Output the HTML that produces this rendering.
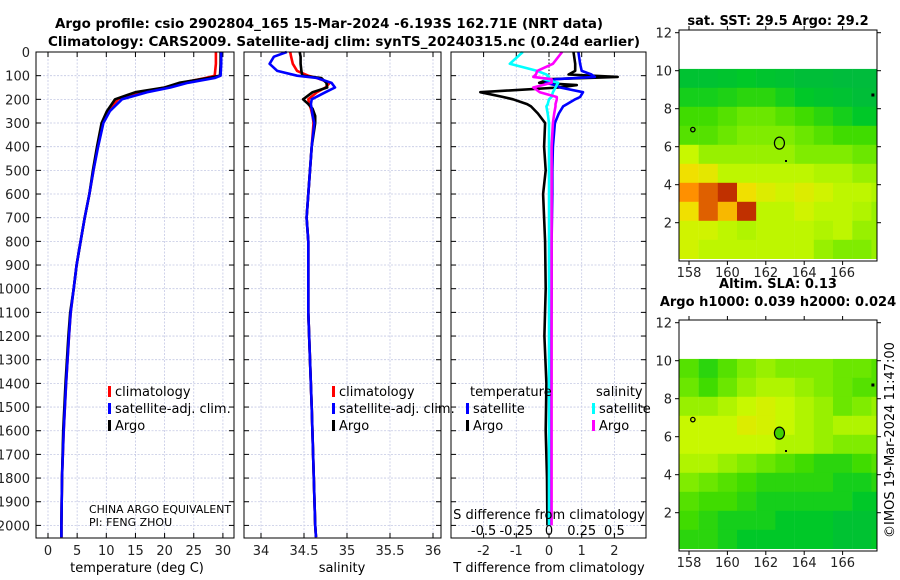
<!DOCTYPE html>
<html><head><meta charset="utf-8"><style>
html,body{margin:0;padding:0;background:#fff;}
svg{display:block;font-family:"DejaVu Sans","Liberation Sans",sans-serif;}
</style></head><body>
<svg id="fig" width="900" height="580" viewBox="0 0 900 580" xmlns="http://www.w3.org/2000/svg">
<text x="329" y="28" font-size="13" font-weight="bold" text-anchor="middle" textLength="548" lengthAdjust="spacingAndGlyphs">Argo profile: csio 2902804_165 15-Mar-2024 -6.193S 162.71E (NRT data)</text>
<text x="344" y="46" font-size="13" font-weight="bold" text-anchor="middle" textLength="592" lengthAdjust="spacingAndGlyphs">Climatology: CARS2009. Satellite-adj clim: synTS_20240315.nc (0.24d earlier)</text>
<g id="panels"></g>
<text x="0" y="0" font-size="13" text-anchor="middle" transform="translate(894,440) rotate(-90)">©IMOS 19-Mar-2024 11:47:00</text>
</svg>
<script>
// ---------- data ----------
const depthTicks = [0,100,200,300,400,500,600,700,800,900,1000,1100,1200,1300,1400,1500,1600,1700,1800,1900,2000];
const tempTicks = [0,5,10,15,20,25,30];
const salTicks = [34,34.5,35,35.5,36];
const salTickLabels = ["34","34.5","35","35.5","36"];
const tdiffTicks = [-2,-1,0,1,2];
const sdiffTicks = [-0.5,-0.25,0,0.25,0.5];
const sdiffTickLabels = ["-0.5","-0.25","0","0.25","0.5"];

const tDepths = [0,50,100,110,130,150,170,200,250,300,400,500,600,700,800,900,1000,1100,1200,1400,1600,1800,2000,2050];
const tempClim = [28.8,28.8,28.6,27,23,20,16,12,10.3,9.4,8.5,7.8,7.1,6.3,5.6,4.9,4.4,3.9,3.6,3.1,2.7,2.4,2.3,2.3];
const tempSat  = [29.7,29.7,29.6,28.6,24,21,17,12.7,10.6,9.5,8.6,7.8,7.1,6.3,5.6,4.9,4.4,3.9,3.6,3.1,2.7,2.4,2.3,2.3];
const tempArgo = [29.6,29.6,29.5,27.5,22.5,20,15,11.5,10.1,9.2,8.4,7.7,7.1,6.3,5.6,4.9,4.4,3.8,3.5,3.0,2.6,2.4,2.3,2.3];

const sDepths = [0,20,50,80,100,110,130,150,170,200,220,240,270,300,400,500,600,700,800,1100,1500,2000,2050];
const salClim = [34.34,34.35,34.37,34.42,34.55,34.65,34.8,34.75,34.65,34.55,34.56,34.58,34.6,34.61,34.59,34.57,34.55,34.53,34.55,34.55,34.59,34.63,34.64];
const salSat  = [34.3,34.15,34.1,34.19,34.42,34.65,34.82,34.86,34.75,34.59,34.58,34.59,34.6,34.62,34.59,34.57,34.55,34.53,34.55,34.55,34.59,34.63,34.64];
const salArgo = [34.45,34.46,34.46,34.47,34.48,34.7,34.76,34.77,34.6,34.49,34.55,34.6,34.63,34.63,34.59,34.57,34.55,34.53,34.55,34.55,34.59,34.63,34.64];

const dDepths = [0,50,80,95,105,115,130,140,150,170,190,200,220,230,260,300,400,500,600,800,1000,1200,1400,1600,1800,2000];
const tdiffSat  = [0.9,0.95,1.0,1.3,1.4,0.2,-0.1,0.2,0.34,1.04,0.95,0.8,0.55,0.43,0.3,0.18,0.12,0.1,0.1,0.08,0.08,0.07,0.07,0.06,0.06,0.05];
const tdiffArgo = [0.75,0.8,0.8,0.6,2.1,0.0,-0.3,0.85,0.3,-2.1,-1.4,-1.1,-0.67,-0.55,-0.34,-0.12,-0.15,-0.1,-0.18,-0.12,-0.1,-0.14,-0.08,-0.1,-0.06,-0.05];
const sdiffSat  = [-0.2,-0.3,-0.09,-0.02,0.0,-0.04,0.07,0.06,0.05,0.03,0.02,0.0,-0.01,-0.02,-0.01,0.0,0.0,0.0,0.0,0.0,0.0,0.0,0.0,0.0,0.0,0.0];
const sdiffArgo = [0.1,0.03,-0.09,-0.1,-0.12,0.02,0.02,-0.05,-0.12,-0.07,0.06,0.06,0.05,0.05,0.04,0.03,0.02,0.02,0.02,0.02,0.02,0.02,0.02,0.02,0.02,0.02];

const mapLonTicks = [158,160,162,164,166];
const mapLatTicks = [2,4,6,8,10,12];
const sstGrid = [
 [0.15,0.15,0.17,0.20,0.17,0.15,0.12,0.12,0.10,0.10,0.10],
 [0.25,0.25,0.27,0.30,0.30,0.25,0.20,0.17,0.15,0.12,0.12],
 [0.35,0.35,0.40,0.45,0.45,0.40,0.35,0.30,0.25,0.20,0.20],
 [0.40,0.40,0.45,0.50,0.50,0.50,0.45,0.40,0.35,0.35,0.35],
 [0.65,0.55,0.55,0.55,0.55,0.55,0.50,0.50,0.50,0.45,0.45],
 [0.75,0.72,0.63,0.63,0.63,0.63,0.63,0.60,0.60,0.55,0.55],
 [0.85,0.90,0.95,0.75,0.70,0.67,0.70,0.67,0.63,0.63,0.60],
 [0.75,0.90,0.80,0.95,0.63,0.63,0.67,0.63,0.63,0.60,0.55],
 [0.67,0.67,0.63,0.60,0.63,0.63,0.63,0.60,0.63,0.55,0.55],
 [0.67,0.63,0.63,0.63,0.63,0.63,0.63,0.55,0.50,0.50,0.55]];
const slaGrid = [
 [0.40,0.30,0.40,0.50,0.55,0.50,0.50,0.50,0.45,0.45,0.40],
 [0.45,0.35,0.45,0.55,0.60,0.60,0.55,0.50,0.45,0.40,0.40],
 [0.55,0.55,0.60,0.65,0.68,0.65,0.60,0.55,0.45,0.50,0.55],
 [0.65,0.65,0.65,0.70,0.68,0.65,0.60,0.55,0.60,0.60,0.60],
 [0.65,0.65,0.65,0.65,0.65,0.60,0.60,0.55,0.50,0.50,0.50],
 [0.60,0.60,0.55,0.50,0.45,0.40,0.35,0.30,0.30,0.35,0.40],
 [0.50,0.45,0.40,0.35,0.30,0.30,0.30,0.30,0.25,0.25,0.30],
 [0.40,0.35,0.35,0.30,0.25,0.25,0.25,0.25,0.25,0.20,0.20],
 [0.35,0.30,0.25,0.25,0.25,0.20,0.20,0.20,0.15,0.15,0.15],
 [0.30,0.30,0.25,0.20,0.20,0.20,0.20,0.20,0.15,0.15,0.20]];
const floatLon = 162.71, floatLat = 6.19;

// ---------- drawing ----------
const NS="http://www.w3.org/2000/svg";
const root=document.getElementById('panels');
function el(tag,attrs,parent){const e=document.createElementNS(NS,tag);for(const k in attrs)e.setAttribute(k,attrs[k]);(parent||root).appendChild(e);return e;}
function txt(s,x,y,attrs,parent){const t=el('text',Object.assign({x:x,y:y,'font-size':13},attrs||{}),parent);t.textContent=s;return t;}

const Y0=52, YPX=0.2367, YB=538;
const yS=d=>Y0+d*YPX;

function panel(name,x0,x1,xs,xticks,xlabels,showY){
  const g=el('g',{});
  
  
  depthTicks.forEach(d=>{
    const l=el('line',{x1:x0,x2:x1,y1:yS(d),y2:yS(d),stroke:'#c4c8e4','stroke-width':0.8,'stroke-dasharray':'2,1.5'},g);
    
    
    el('line',{x1:x0,x2:x0+5,y1:yS(d),y2:yS(d),stroke:'#000'},g);
    el('line',{x1:x1-5,x2:x1,y1:yS(d),y2:yS(d),stroke:'#000'},g);
    if(showY){const t=txt(String(d),x0-6,yS(d)+5,{'text-anchor':'end',fill:'#222'},g);
      
      }
  });
  xticks.forEach((v,i)=>{
    const x=xs(v);
    const l=el('line',{x1:x,x2:x,y1:Y0,y2:YB,stroke:'#c4c8e4','stroke-width':0.8,'stroke-dasharray':'2,1.5'},g);
    
    
    el('line',{x1:x,x2:x,y1:Y0,y2:Y0+5,stroke:'#000'},g);
    el('line',{x1:x,x2:x,y1:YB-5,y2:YB,stroke:'#000'},g);
    const t=txt(xlabels[i],x,555,{'text-anchor':'middle',fill:'#222'},g);
    
    
  });
  return g;
}
function frame(g,x0,x1){el('rect',{x:x0,y:Y0,width:x1-x0,height:YB-Y0,fill:'none',stroke:'#000','stroke-width':1},g);}
function line(g,name,xs,depths,vals,color,w){
  const p=el('polyline',{points:depths.map((d,i)=>xs(vals[i]).toFixed(1)+','+yS(d).toFixed(1)).join(' '),fill:'none',stroke:color,'stroke-width':w||2.6,'stroke-linejoin':'round'},g);
  
  
}
function legend(g,x,y,color,label,name){
  el('rect',{x:x-2,y:y-10,width:3,height:11,fill:color},g);
  const t=txt(label,x+5,y,{},g);
  
  
}

// panel 1 temperature
const xT=v=>48+v*5.83;
const g1=panel('temperature-panel',36,234,xT,tempTicks,tempTicks.map(String),true);
line(g1,'temp-climatology-line',xT,tDepths,tempClim,'#f00');
line(g1,'temp-argo-line',xT,tDepths,tempArgo,'#000');
line(g1,'temp-satellite-line',xT,tDepths,tempSat,'#00f');
frame(g1,36,234);
legend(g1,110,396,'#f00','climatology','legend-climatology');
legend(g1,110,413,'#00f','satellite-adj. clim.','legend-satellite-adj');
legend(g1,110,430,'#000','Argo','legend-argo');
let t=txt('CHINA ARGO EQUIVALENT',89,513,{'font-size':11,textLength:142,lengthAdjust:'spacingAndGlyphs'},g1);


t=txt('PI: FENG ZHOU',89,526,{'font-size':11},g1);


t=txt('temperature (deg C)',137,572,{'text-anchor':'middle'},g1);



// panel 2 salinity
const xSal=v=>261+(v-34)*86;
const g2=panel('salinity-panel',244,441,xSal,salTicks,salTickLabels,false);
line(g2,'sal-climatology-line',xSal,sDepths,salClim,'#f00');
line(g2,'sal-argo-line',xSal,sDepths,salArgo,'#000');
line(g2,'sal-satellite-line',xSal,sDepths,salSat,'#00f');
frame(g2,244,441);
legend(g2,334,396,'#f00','climatology','legend-climatology-sal');
legend(g2,334,413,'#00f','satellite-adj. clim.','legend-satellite-adj-sal');
legend(g2,334,430,'#000','Argo','legend-argo-sal');
t=txt('salinity',342,572,{'text-anchor':'middle'},g2);



// panel 3 differences
const xTD=v=>549+v*32.7;
const xSD=v=>549+v*130.8;
const g3=panel('difference-panel',451,646,xTD,tdiffTicks,tdiffTicks.map(String),false);
el('line',{x1:549,x2:549,y1:Y0,y2:yS(100),stroke:'#000','stroke-width':1,'stroke-dasharray':'1.5,2'},g3);
line(g3,'tdiff-argo-line',xTD,dDepths,tdiffArgo,'#000');
line(g3,'tdiff-satellite-line',xTD,dDepths,tdiffSat,'#00f');
line(g3,'sdiff-satellite-line',xSD,dDepths,sdiffSat,'#0ff');
line(g3,'sdiff-argo-line',xSD,dDepths,sdiffArgo,'#f0f');
frame(g3,451,646);
t=txt('temperature',470,396,{},g3);
t=txt('salinity',596,396,{},g3);
legend(g3,468,413,'#00f','satellite','legend-tdiff-satellite');
legend(g3,468,430,'#000','Argo','legend-tdiff-argo');
legend(g3,594,413,'#0ff','satellite','legend-sdiff-satellite');
legend(g3,594,430,'#f0f','Argo','legend-sdiff-argo');
t=txt('S difference from climatology',549,519,{'text-anchor':'middle'},g3);
sdiffTicks.forEach((v,i)=>{const s=txt(sdiffTickLabels[i],xSD(v),535,{'text-anchor':'middle'},g3);
  
  });
t=txt('T difference from climatology',549,572,{'text-anchor':'middle'},g3);

// maps
const stops=[[0,[0,176,80]],[0.2,[0,200,40]],[0.35,[64,220,0]],[0.5,[128,236,0]],[0.65,[200,248,0]],[0.75,[240,224,0]],[0.85,[255,144,0]],[1,[160,0,0]]];
function cmap(v){for(let i=1;i<stops.length;i++){if(v<=stops[i][0]){const a=stops[i-1],b=stops[i];const f=(v-a[0])/(b[0]-a[0]);return 'rgb('+a[1].map((c,k)=>Math.round(c+(b[1][k]-c)*f)).join(',')+')';}}return 'rgb(160,0,0)';}
function map(name,top,grid,title1,title2,filled){
  const g=el('g',{});
  
  
  const L=679,R=877,B=top+231;
  const mx=lon=>689+(lon-158)*19.2, my=lat=>top+2.7+(12-lat)*19;
  const cid='clip'+name;
  const cp=el('clipPath',{id:cid},g);el('rect',{x:L,y:top,width:R-L,height:B-top},cp);
  const cg=el('g',{'clip-path':'url(#'+cid+')'},g);
  grid.forEach((row,r)=>row.forEach((v,c)=>{
    const lat1=10.1-r, lon0=157.5+c;
    const cell=el('rect',{x:mx(lon0),y:my(lat1),width:19.4,height:19.2,fill:cmap(v)},cg);
    
    
  }));
  el('rect',{x:L,y:top,width:R-L,height:my(10.1)-top,fill:'#fff'},g);
  el('rect',{x:L,y:top,width:R-L,height:B-top,fill:'none',stroke:'#000'},g);
  mapLonTicks.forEach(v=>{el('line',{x1:mx(v),x2:mx(v),y1:B,y2:B+4,stroke:'#000'},g);el('line',{x1:mx(v),x2:mx(v),y1:top,y2:top-4,stroke:'#000'},g);
    const s=txt(String(v),mx(v),B+16,{'text-anchor':'middle',fill:'#222'},g);
    
    });
  mapLatTicks.forEach(v=>{el('line',{x1:L-4,x2:L,y1:my(v),y2:my(v),stroke:'#000'},g);el('line',{x1:R,x2:R+4,y1:my(v),y2:my(v),stroke:'#000'},g);
    const s=txt(String(v),L-7,my(v)+5,{'text-anchor':'end',fill:'#222'},g);
    
    });
  const m=el('ellipse',{cx:mx(floatLon),cy:my(floatLat),rx:5,ry:6,fill:filled?'#40d000':'none',stroke:'#000','stroke-width':1.2},g);
  
  
  el('circle',{cx:mx(158.2),cy:my(6.9),r:2.2,fill:'none',stroke:'#000','stroke-width':1.3},g);
  el('rect',{x:mx(167.5),y:my(8.8),width:3,height:3,fill:'#000'},g);
  el('rect',{x:mx(163),y:my(5.3),width:2,height:2,fill:'#000'},g);
  let a=txt(title1,778,top-(title2?32:5),{'text-anchor':'middle','font-weight':'bold'},g);
  
  
  if(title2){a=txt(title2,778,top-14,{'text-anchor':'middle','font-weight':'bold'},g);
    
    }
}
map('sst-map',30,sstGrid,'sat. SST: 29.5 Argo: 29.2',null,false);
map('sla-map',320,slaGrid,'Altim. SLA: 0.13','Argo h1000: 0.039 h2000: 0.024',true);
</script>
</body></html>
